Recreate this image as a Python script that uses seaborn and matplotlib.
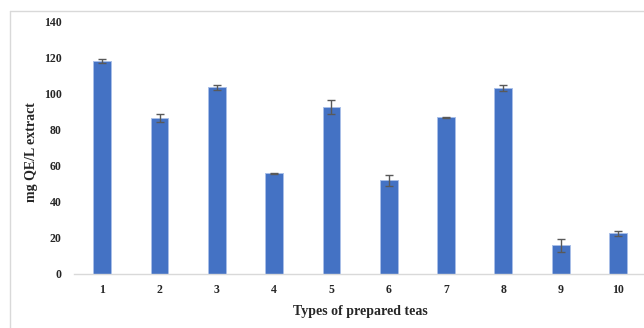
import matplotlib
matplotlib.use("Agg")
import matplotlib.pyplot as plt
from matplotlib.lines import Line2D
import seaborn as sns
import pandas as pd
import numpy as np

# Flavonoid content of the prepared teas
tea_types = ["1", "2", "3", "4", "5", "6", "7", "8", "9", "10"]
qe_mean = [118.5, 86.8, 103.7, 55.9, 92.8, 52.0, 87.0, 103.1, 15.9, 22.6]
qe_sd = [1.1, 2.2, 1.5, 0.4, 3.8, 3.1, 0.4, 1.7, 3.5, 1.3]
y_ticks = [0, 20, 40, 60, 80, 100, 120, 140]

sns.set_theme(style="white")
plt.rcParams["font.family"] = ["Liberation Serif", "DejaVu Serif"]

df = pd.DataFrame({"tea": tea_types, "qe": qe_mean})

fig = plt.figure(figsize=(6.44, 3.28), dpi=100)
W, H = 644, 328
ax = fig.add_axes([73.6 / W, (H - 274) / H, (646.6 - 73.6) / W, (274 - 22) / H])

sns.barplot(data=df, x="tea", y="qe", color="#4472C4", width=0.31,
            edgecolor="#a9bfe8", linewidth=0.7, saturation=1, ax=ax, zorder=2)

pos = np.arange(len(tea_types))
ax.errorbar(pos, qe_mean, yerr=qe_sd, fmt="none", ecolor="#595959",
            elinewidth=1.0, capsize=2.6, capthick=1.0, zorder=3)

ax.set_ylim(0, 140)
ax.set_yticks(y_ticks)
ax.set_yticklabels([str(t) for t in y_ticks])
ax.set_xlim(-0.5, len(tea_types) - 0.5)

for side in ["left", "right", "top"]:
    ax.spines[side].set_visible(False)
ax.spines["bottom"].set_color("#d9d9d9")
ax.spines["bottom"].set_linewidth(1.0)

ax.tick_params(axis="y", length=0, pad=8.5, labelsize=8.5)
ax.tick_params(axis="x", length=0, pad=7, labelsize=8.5)
for lbl in ax.get_xticklabels() + ax.get_yticklabels():
    lbl.set_fontweight("bold")

ax.set_xlabel("Types of prepared teas", fontsize=10, fontweight="bold", labelpad=6.5)
ax.set_ylabel("mg QE/L extract", fontsize=10, fontweight="bold")
ax.yaxis.set_label_coords(-0.062, 0.482)
ax.grid(False)

# light outer frame on the left and top
fig.add_artist(Line2D([9.5 / W, 9.5 / W], [0, (H - 10.5) / H], transform=fig.transFigure,
                      color="#d9d9d9", linewidth=1.0))
fig.add_artist(Line2D([9.5 / W, 1], [(H - 10.5) / H, (H - 10.5) / H], transform=fig.transFigure,
                      color="#d9d9d9", linewidth=1.0))

fig.savefig("out.png", dpi=100)
